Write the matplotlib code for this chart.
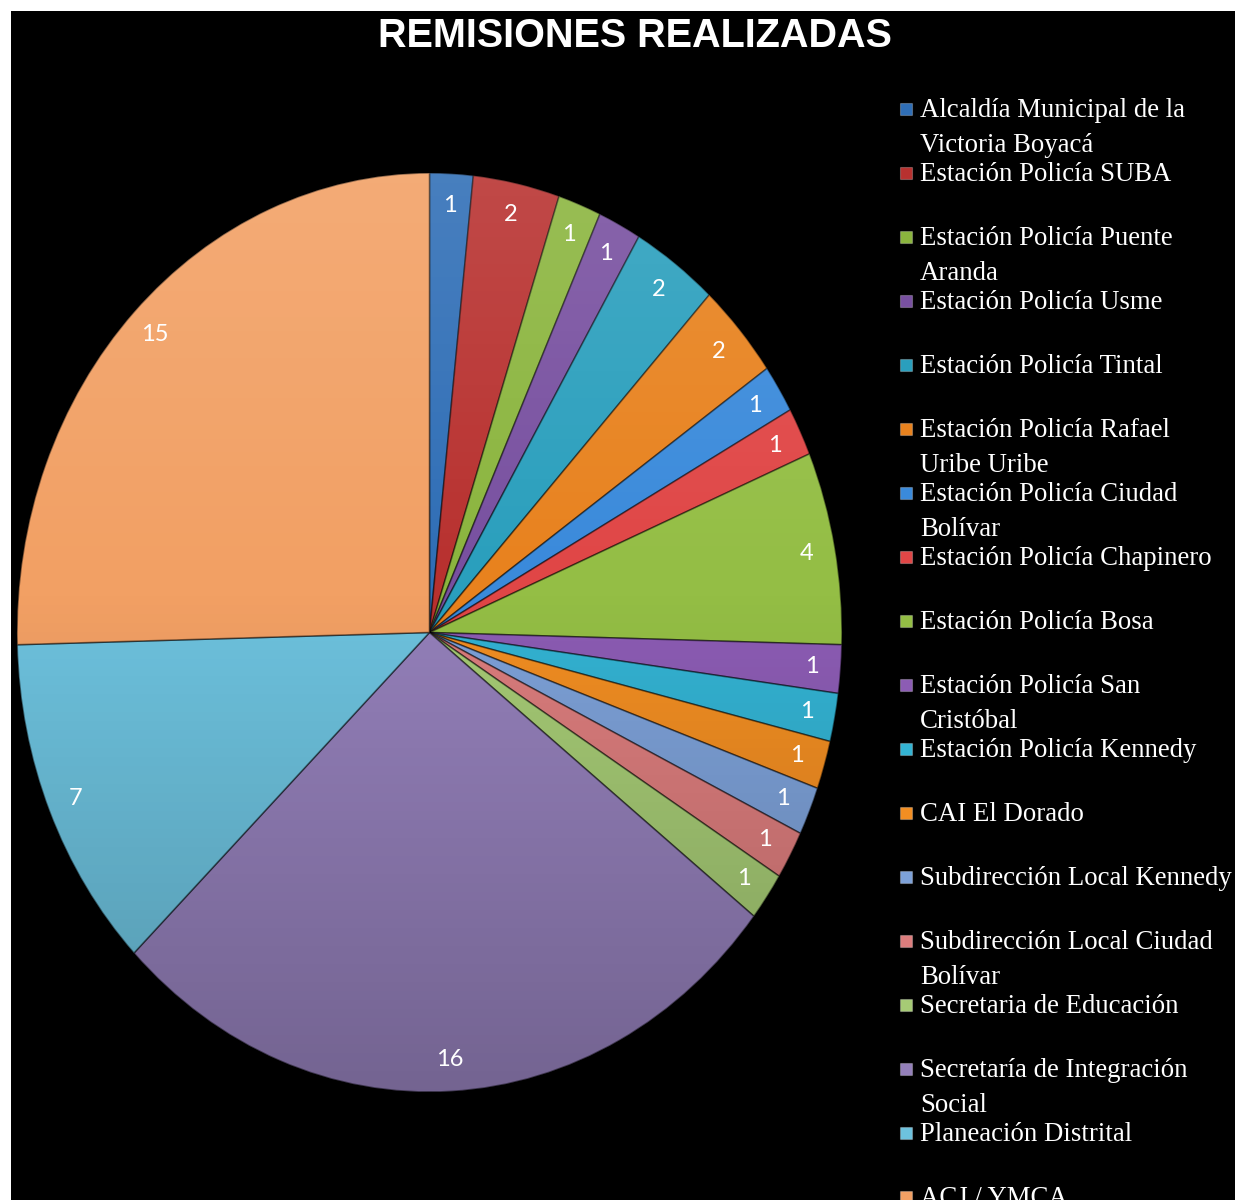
import numpy as np
import matplotlib.pyplot as plt
from matplotlib import font_manager
from matplotlib.patches import Rectangle, Circle

# datos del grafico
labels = [
    "Alcaldía Municipal de la\nVictoria Boyacá",
    "Estación Policía SUBA",
    "Estación Policía Puente\nAranda",
    "Estación Policía Usme",
    "Estación Policía Tintal",
    "Estación Policía Rafael\nUribe Uribe",
    "Estación Policía Ciudad\nBolívar",
    "Estación Policía Chapinero",
    "Estación Policía Bosa",
    "Estación Policía San\nCristóbal",
    "Estación Policía Kennedy",
    "CAI El Dorado",
    "Subdirección Local Kennedy",
    "Subdirección Local Ciudad\nBolívar",
    "Secretaria de Educación",
    "Secretaría de Integración\nSocial",
    "Planeación Distrital",
    "ACJ / YMCA",
]
values = [1, 2, 1, 1, 2, 2, 1, 1, 4, 1, 1, 1, 1, 1, 1, 16, 7, 15]
colors = [
    "#2F6EB6", "#B8312F", "#8BB53E", "#7850A0", "#2A9FBD", "#E8821E",
    "#3A8ADB", "#E04646", "#94BE45", "#8C5CB4", "#33B3D3", "#F28E22",
    "#7DA1D8", "#DC7D7D", "#A6CB75", "#9480BA", "#6DC2DE", "#F2A064",
]
title = "REMISIONES REALIZADAS"

total = sum(values)
W, H = 1235, 1200

fig = plt.figure(figsize=(W / 100, H / 100), dpi=100)
fig.patch.set_facecolor("white")

# fondo negro (borde blanco arriba e izquierda)
bg = fig.add_axes([11 / W, 0, 1 - 11 / W, (H - 11) / H], zorder=-5)
bg.set_facecolor("black")
bg.set_xticks([])
bg.set_yticks([])
for s in bg.spines.values():
    s.set_visible(False)

# pie eliptico
ax = fig.add_axes([17 / W, (H - 1092) / H, 825 / W, 919 / H], zorder=1)
wedges, _, autotexts = ax.pie(
    values, colors=colors, startangle=90, counterclock=False, radius=1,
    autopct=lambda p: f"{round(p * total / 100):d}", pctdistance=0.93,
    wedgeprops=dict(edgecolor=(0, 0, 0, 0.45), linewidth=1.2),
    textprops=dict(color="white", fontsize=17, family=["Lato", "DejaVu Sans"]))
ax.set_aspect("auto")
ax.axis("off")
for a in autotexts:
    a.set_zorder(5)

# sombreado vertical (claro arriba, oscuro abajo)
t = np.linspace(0, 1, 256)
grad = np.zeros((256, 1, 4))
top = t < 0.45
grad[top, 0, :3] = 1.0
grad[top, 0, 3] = 0.12 * (1 - t[top] / 0.45)
grad[~top, 0, 3] = 0.22 * (t[~top] - 0.45) / 0.55
im = ax.imshow(grad, extent=(-1, 1, -1, 1), aspect="auto", zorder=3, interpolation="bilinear")
im.set_clip_path(Circle((0, 0), 1, transform=ax.transData))
ax.set_xlim(-1, 1)
ax.set_ylim(-1, 1)

# titulo y leyenda en coordenadas de pixel
lg = fig.add_axes([0, 0, 1, 1], facecolor="none", zorder=2)
lg.set_xlim(0, W)
lg.set_ylim(H, 0)
lg.axis("off")

names = {f.name for f in font_manager.fontManager.ttflist}
if "Liberation Sans Narrow" in names:
    lg.text(635, 47, title, ha="center", va="baseline", color="white",
            fontsize=34, fontweight="bold", family="Liberation Sans Narrow")
else:
    lg.text(635, 47, title, ha="center", va="baseline", color="white",
            fontsize=28.5, fontweight="bold", family="Liberation Sans")

for i, (lab, c) in enumerate(zip(labels, colors)):
    base = 117 + 64 * i
    lg.add_patch(Rectangle((900, base - 14), 12, 12, facecolor=c,
                           edgecolor=(1, 1, 1, 0.25), linewidth=0.8))
    for k, line in enumerate(lab.split("\n")):
        lg.text(920, base + 35 * k, line, ha="left", va="baseline", color="white",
                fontsize=19.3, family="Liberation Serif")

fig.savefig("out.png", dpi=100, facecolor=fig.get_facecolor())
